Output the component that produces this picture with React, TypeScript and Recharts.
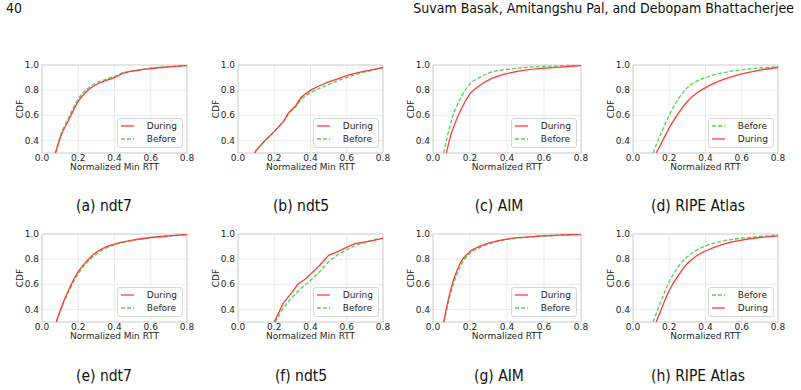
import { LineChart, Line, XAxis, YAxis, CartesianGrid, Legend, ReferenceArea } from 'recharts'

// CDF of normalized RTT, before vs during — 8 panels, [x, cdf] pairs

const X_TICKS = [0, 0.2, 0.4, 0.6, 0.8]
const Y_TICKS = [0.4, 0.6, 0.8, 1.0]

// (a) ndt7
const ndt7TopDuring = [[0.075, 0.3], [0.1, 0.42], [0.15, 0.57], [0.2, 0.71], [0.25, 0.795], [0.3, 0.845], [0.35, 0.875], [0.4, 0.9], [0.45, 0.935], [0.5, 0.952], [0.6, 0.972], [0.7, 0.985], [0.8, 0.995]]
const ndt7TopBefore = [[0.073, 0.3], [0.1, 0.43], [0.15, 0.59], [0.2, 0.73], [0.25, 0.81], [0.3, 0.858], [0.35, 0.885], [0.4, 0.91], [0.45, 0.94], [0.5, 0.955], [0.6, 0.975], [0.7, 0.987], [0.8, 0.996]]
// (b) ndt5
const ndt5TopDuring = [[0.092, 0.3], [0.1, 0.32], [0.15, 0.4], [0.2, 0.47], [0.25, 0.55], [0.28, 0.62], [0.32, 0.68], [0.35, 0.745], [0.4, 0.8], [0.45, 0.835], [0.5, 0.865], [0.55, 0.89], [0.6, 0.915], [0.65, 0.935], [0.7, 0.952], [0.8, 0.98]]
const ndt5TopBefore = [[0.092, 0.3], [0.1, 0.32], [0.15, 0.4], [0.2, 0.47], [0.25, 0.55], [0.28, 0.615], [0.32, 0.67], [0.35, 0.73], [0.4, 0.78], [0.45, 0.815], [0.5, 0.845], [0.55, 0.875], [0.6, 0.9], [0.65, 0.925], [0.7, 0.945], [0.8, 0.98]]
// (c) AIM
const aimTopDuring = [[0.072, 0.3], [0.1, 0.46], [0.15, 0.64], [0.2, 0.77], [0.25, 0.835], [0.3, 0.88], [0.4, 0.932], [0.5, 0.96], [0.6, 0.975], [0.7, 0.985], [0.8, 0.995]]
const aimTopBefore = [[0.058, 0.3], [0.1, 0.56], [0.15, 0.74], [0.2, 0.85], [0.25, 0.9], [0.3, 0.935], [0.4, 0.965], [0.5, 0.98], [0.6, 0.988], [0.7, 0.994], [0.8, 1.0]]
// (d) RIPE Atlas
const ripeTopBefore = [[0.11, 0.3], [0.15, 0.44], [0.2, 0.6], [0.25, 0.73], [0.3, 0.82], [0.35, 0.87], [0.4, 0.9], [0.5, 0.94], [0.6, 0.962], [0.7, 0.976], [0.8, 0.986]]
const ripeTopDuring = [[0.128, 0.3], [0.15, 0.36], [0.2, 0.5], [0.25, 0.615], [0.3, 0.71], [0.35, 0.775], [0.4, 0.82], [0.5, 0.885], [0.6, 0.93], [0.7, 0.96], [0.8, 0.98]]
// (e) ndt7
const ndt7BotDuring = [[0.079, 0.3], [0.1, 0.39], [0.15, 0.565], [0.2, 0.7], [0.25, 0.79], [0.3, 0.855], [0.35, 0.895], [0.4, 0.92], [0.5, 0.952], [0.6, 0.972], [0.7, 0.985], [0.8, 0.995]]
const ndt7BotBefore = [[0.08, 0.3], [0.1, 0.385], [0.15, 0.55], [0.2, 0.685], [0.25, 0.775], [0.3, 0.84], [0.35, 0.885], [0.4, 0.915], [0.5, 0.948], [0.6, 0.97], [0.7, 0.984], [0.8, 0.995]]
// (f) ndt5
const ndt5BotDuring = [[0.2, 0.3], [0.22, 0.36], [0.25, 0.45], [0.3, 0.54], [0.33, 0.6], [0.37, 0.64], [0.4, 0.68], [0.45, 0.75], [0.5, 0.83], [0.55, 0.86], [0.6, 0.895], [0.65, 0.925], [0.7, 0.935], [0.75, 0.95], [0.8, 0.965]]
const ndt5BotBefore = [[0.205, 0.3], [0.25, 0.41], [0.3, 0.5], [0.35, 0.57], [0.4, 0.63], [0.45, 0.7], [0.5, 0.78], [0.55, 0.835], [0.6, 0.875], [0.65, 0.91], [0.7, 0.935], [0.75, 0.955], [0.8, 0.968]]
// (g) AIM
const aimBotDuring = [[0.058, 0.3], [0.08, 0.46], [0.1, 0.58], [0.15, 0.775], [0.2, 0.86], [0.25, 0.9], [0.3, 0.928], [0.4, 0.96], [0.5, 0.975], [0.6, 0.985], [0.8, 0.997]]
const aimBotBefore = [[0.06, 0.3], [0.08, 0.44], [0.1, 0.55], [0.15, 0.75], [0.2, 0.845], [0.25, 0.89], [0.3, 0.92], [0.4, 0.957], [0.5, 0.973], [0.6, 0.984], [0.8, 0.997]]
// (h) RIPE Atlas
const ripeBotBefore = [[0.11, 0.3], [0.15, 0.45], [0.2, 0.62], [0.25, 0.74], [0.3, 0.82], [0.35, 0.87], [0.4, 0.905], [0.5, 0.945], [0.6, 0.967], [0.7, 0.98], [0.8, 0.99]]
const ripeBotDuring = [[0.128, 0.3], [0.15, 0.38], [0.2, 0.55], [0.25, 0.67], [0.3, 0.765], [0.35, 0.825], [0.4, 0.865], [0.5, 0.92], [0.6, 0.952], [0.7, 0.972], [0.8, 0.985]]

const RED = '#ff3b3b'
const GREEN = '#4fd44f'
const MPL_FONT = '"DejaVu Sans", Verdana, sans-serif'
const PAPER_FONT = '"DejaVu Sans Condensed", "Liberation Sans Narrow", "Open Sans", sans-serif'
const FS = 9
const PLOT_H = 88

const toRows = (pts: number[][]) => pts.map(([x, y]) => ({ x, y }))

const SERIES: any = {
  During: { color: RED, dash: undefined },
  Before: { color: GREEN, dash: '4 2' },
}

const LegendBox = ({ order }: { order: string[] }) => (
  <div style={{
    border: '1px solid #d6d6d6', borderRadius: 3, background: 'rgba(255,255,255,0.85)',
    padding: '0 5px 1px 3px', fontFamily: MPL_FONT, fontSize: FS, color: '#262626',
  }}>
    {order.map(name => (
      <div key={name} style={{ display: 'flex', alignItems: 'center', height: 13.3 }}>
        <svg width={13} height={4} style={{ display: 'block' }}>
          <line x1={0} y1={2} x2={13} y2={2} stroke={SERIES[name].color} strokeWidth={1.3} strokeDasharray={SERIES[name].dash} />
        </svg>
        <span style={{ marginLeft: 13, lineHeight: 1 }}>{name}</span>
      </div>
    ))}
  </div>
)

function Panel({ left, top, width, xLabel, during, before, order, curve }: any) {
  const chartW = width + 50
  const chartH = PLOT_H + 30
  const tick = { fontSize: FS, fill: '#262626', fontFamily: MPL_FONT }
  return (
    <div style={{ position: 'absolute', left: left - 40, top: top - 10 }}>
      <LineChart width={chartW} height={chartH} margin={{ top: 10, right: 10, bottom: 0, left: 0 }}>
        <CartesianGrid stroke="#e6e6e6" strokeWidth={0.8} />
        <ReferenceArea x1={0} x2={0.8} y1={0.3} y2={1} fill="none" stroke="#cccccc" strokeWidth={0.8} />
        <XAxis
          type="number" dataKey="x" domain={[0, 0.8]} ticks={X_TICKS} allowDataOverflow
          tickFormatter={(v: number) => v.toFixed(1)} tick={tick} tickLine={false} axisLine={false}
          tickSize={0} tickMargin={2} height={20} interval={0}
          label={{ value: xLabel, position: 'insideBottom', offset: 3, fontSize: FS, fill: '#262626', fontFamily: MPL_FONT }}
        />
        <YAxis
          type="number" domain={[0.3, 1]} ticks={Y_TICKS} allowDataOverflow
          tickFormatter={(v: number) => v.toFixed(1)} tick={tick} tickLine={false} axisLine={false}
          tickSize={0} tickMargin={3} width={40} interval={0}
          label={{ value: 'CDF', angle: -90, position: 'center', dx: -2, fontSize: FS, fill: '#262626', fontFamily: MPL_FONT }}
        />
        <Legend
          layout="vertical" align="center" verticalAlign="middle"
          wrapperStyle={{ right: 14, bottom: 25, left: 'auto', top: 'auto', width: 'auto' }}
          content={() => <LegendBox order={order} />}
        />
        <Line data={toRows(before)} dataKey="y" name="Before" type={curve} stroke={GREEN} strokeWidth={1.3}
          strokeDasharray="4 2" dot={false} isAnimationActive={false} />
        <Line data={toRows(during)} dataKey="y" name="During" type={curve} stroke={RED} strokeWidth={1.3}
          dot={false} isAnimationActive={false} />
      </LineChart>
    </div>
  )
}

const Caption = ({ cx, cy, text }: any) => (
  <div style={{
    position: 'absolute', left: cx - 100, top: cy - 9, width: 200, textAlign: 'center',
    fontFamily: PAPER_FONT, fontSize: 15.5, lineHeight: '18px', color: '#111',
  }}>{text}</div>
)

const headerStyle: any = {
  position: 'absolute', top: 0, fontFamily: PAPER_FONT, fontSize: 14, lineHeight: '17px', color: '#111',
}

const DUR_FIRST = ['During', 'Before']
const BEF_FIRST = ['Before', 'During']

export default function App() {
  return (
    <div style={{ position: 'absolute', left: 0, top: 0, width: 801, height: 390, background: '#fff', overflow: 'hidden' }}>
      <div style={{ ...headerStyle, left: 6 }}>40</div>
      <div style={{ ...headerStyle, right: 7 }}>Suvam Basak, Amitangshu Pal, and Debopam Bhattacherjee</div>

      <Panel left={42} top={65} width={145} xLabel="Normalized Min RTT" during={ndt7TopDuring} before={ndt7TopBefore} order={DUR_FIRST} curve="monotone" />
      <Panel left={238} top={65} width={145} xLabel="Normalized Min RTT" during={ndt5TopDuring} before={ndt5TopBefore} order={DUR_FIRST} curve="linear" />
      <Panel left={433} top={65} width={148} xLabel="Normalized RTT" during={aimTopDuring} before={aimTopBefore} order={DUR_FIRST} curve="monotone" />
      <Panel left={633} top={65} width={145} xLabel="Normalized RTT" during={ripeTopDuring} before={ripeTopBefore} order={BEF_FIRST} curve="monotone" />

      <Caption cx={104} cy={206} text="(a) ndt7" />
      <Caption cx={301} cy={206} text="(b) ndt5" />
      <Caption cx={499} cy={206} text="(c) AIM" />
      <Caption cx={698} cy={206} text="(d) RIPE Atlas" />

      <Panel left={42} top={234} width={145} xLabel="Normalized Min RTT" during={ndt7BotDuring} before={ndt7BotBefore} order={DUR_FIRST} curve="monotone" />
      <Panel left={238} top={234} width={145} xLabel="Normalized Min RTT" during={ndt5BotDuring} before={ndt5BotBefore} order={DUR_FIRST} curve="linear" />
      <Panel left={433} top={234} width={148} xLabel="Normalized RTT" during={aimBotDuring} before={aimBotBefore} order={DUR_FIRST} curve="monotone" />
      <Panel left={633} top={234} width={145} xLabel="Normalized RTT" during={ripeBotDuring} before={ripeBotBefore} order={BEF_FIRST} curve="monotone" />

      <Caption cx={104} cy={376} text="(e) ndt7" />
      <Caption cx={301} cy={376} text="(f) ndt5" />
      <Caption cx={499} cy={376} text="(g) AIM" />
      <Caption cx={698} cy={376} text="(h) RIPE Atlas" />
    </div>
  )
}
